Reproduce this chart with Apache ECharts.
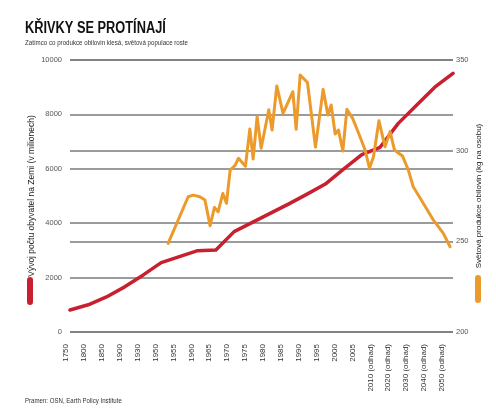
<!DOCTYPE html>
<html><head><meta charset="utf-8">
<script src="https://cdn.jsdelivr.net/npm/echarts@6/dist/echarts.min.js"></script>
<style>html,body{margin:0;padding:0;background:#fff}#c{width:496px;height:417px}</style>
</head><body><div id="c"></div>
<script>
// Axis tick years and their labels (irregular category-like spacing)
const tickYears = [1750,1800,1850,1900,1930,1950,1955,1960,1965,1970,1975,1980,1985,1990,1995,2000,2005,2010,2020,2030,2040,2050];
const tickLabels = ["1750","1800","1850","1900","1930","1950","1955","1960","1965","1970","1975","1980","1985","1990","1995","2000","2005","2010 (odhad)","2020 (odhad)","2030 (odhad)","2040 (odhad)","2050 (odhad)"];

// World population (millions)
const popYears = [1750,1800,1850,1900,1930,1950,1955,1960,1965,1970,1975,1980,1985,1990,1995,2000,2005,2010,2020,2030,2040,2050];
const popValues = [810,1000,1290,1660,2090,2550,2770,2990,3015,3690,4030,4370,4710,5070,5440,5990,6520,6790,7670,8340,9000,9510];

// World grain production per person (kg)
const grainYears = [1951.9,1957.4,1958.8,1960.6,1962.0,1963.4,1964.6,1965.6,1966.9,1967.9,1968.9,1970.2,1971.2,1973.1,1974.3,1975.2,1976.3,1977.4,1979.5,1980.4,1981.7,1983.4,1986.1,1987.0,1988.1,1990.1,1992.3,1994.4,1995.7,1996.6,1997.7,1998.6,1999.8,2000.9,2002.5,2004.5,2005.9,2007.1,2008.2,2009.7,2012.7,2015.5,2017.9,2022.3,2025.5,2028.2,2033.7,2039.2,2044.7,2048.4];
const grainValues = [248.9,274.6,275.5,274.6,272.8,258.6,268.7,266.3,276.4,271.0,289.3,291.7,295.8,291.4,312.0,295.4,318.7,301.3,322.6,311.4,335.7,320.6,332.5,311.8,341.7,337.6,302.0,333.8,319.7,325.2,309.2,311.4,299.8,322.8,317.8,307.7,300.4,290.3,296.7,316.5,302.2,310.5,300.4,297.1,289.3,280.1,271.0,261.8,254.4,247.0];

// Piecewise axis scale: each labelled tick occupies one equal step
function yearToSlot(y) {
  for (let i = 0; i < tickYears.length - 1; i++) {
    if (y <= tickYears[i + 1]) return i + (y - tickYears[i]) / (tickYears[i + 1] - tickYears[i]);
  }
  return tickYears.length - 1;
}

const RED = '#c8202f', ORANGE = '#ec9a2c';
const FONT = "'Liberation Sans', Arial, sans-serif";
const chart = echarts.init(document.getElementById('c'), null, {renderer: 'canvas'});
const grid = {color: '#7a7a7a', width: 1.5};
chart.setOption({
  animation: false,
  backgroundColor: '#fff',
  grid: [
    {left: 70, right: 43, top: 60, bottom: 85},
    {left: 66, right: 54, top: 60, bottom: 85}
  ],
  xAxis: [
    {gridIndex: 0, type: 'value', min: 0, max: tickYears.length - 1, show: false},
    {gridIndex: 1, type: 'category', data: tickLabels, boundaryGap: false,
     axisLine: {show: false}, axisTick: {show: false}, splitLine: {show: false},
     axisLabel: {rotate: 90, margin: 12, fontSize: 8, color: '#333', fontFamily: FONT, interval: 0}}
  ],
  yAxis: [
    {gridIndex: 0, type: 'value', min: 0, max: 10000, interval: 2000, position: 'left',
     axisLine: {show: false}, axisTick: {show: false},
     axisLabel: {fontSize: 7.5, color: '#555', margin: 8, fontFamily: FONT, formatter: v => String(v)},
     splitLine: {lineStyle: grid},
     name: 'Vývoj počtu obyvatel na Zemi (v milionech)', nameLocation: 'middle', nameRotate: 90, nameGap: 34,
     nameMoveOverlap: false,
     nameTextStyle: {fontSize: 8.5, color: '#222', fontFamily: FONT}},
    {gridIndex: 0, type: 'value', min: 200, max: 350, interval: 50, position: 'right',
     axisLine: {show: false}, axisTick: {show: false},
     axisLabel: {fontSize: 7.5, color: '#555', margin: 3, fontFamily: FONT, formatter: v => String(v)},
     splitLine: {lineStyle: grid},
     name: 'Světová produkce obilovin (kg na osobu)', nameLocation: 'middle', nameRotate: 90, nameGap: 22,
     nameMoveOverlap: false,
     nameTextStyle: {fontSize: 8, color: '#222', fontFamily: FONT}},
    {gridIndex: 1, type: 'value', min: 0, max: 1, show: false}
  ],
  series: [
    {type: 'line', xAxisIndex: 0, yAxisIndex: 0, symbol: 'none', silent: true,
     lineStyle: {color: RED, width: 3.5, cap: 'round', join: 'round'},
     data: popYears.map((y, i) => [yearToSlot(y), popValues[i]])},
    {type: 'line', xAxisIndex: 0, yAxisIndex: 1, symbol: 'none', silent: true,
     lineStyle: {color: ORANGE, width: 3, cap: 'round', join: 'round'},
     data: grainYears.map((y, i) => [yearToSlot(y), grainValues[i]])}
  ],
  graphic: [
    {type: 'text', x: 25, y: 21, scaleX: 0.8,
     style: {text: 'KŘIVKY SE PROTÍNAJÍ', font: "bold 16px 'Liberation Sans', Arial, sans-serif", fill: '#111', verticalAlign: 'top'}},
    {type: 'text', x: 25, y: 39.5, scaleX: 0.88,
     style: {text: 'Zatímco co produkce obilovin klesá, světová populace roste', font: "7px 'Liberation Sans', Arial, sans-serif", fill: '#333', verticalAlign: 'top'}},
    {type: 'text', x: 25, y: 398, scaleX: 0.87,
     style: {text: 'Pramen: OSN, Earth Policy Institute', font: "7px 'Liberation Sans', Arial, sans-serif", fill: '#333', verticalAlign: 'top'}},
    {type: 'rect', x: 27, y: 277, shape: {width: 6, height: 28, r: 3}, style: {fill: RED}},
    {type: 'rect', x: 475, y: 275, shape: {width: 6, height: 28, r: 3}, style: {fill: ORANGE}}
  ]
});
</script>
</body></html>
